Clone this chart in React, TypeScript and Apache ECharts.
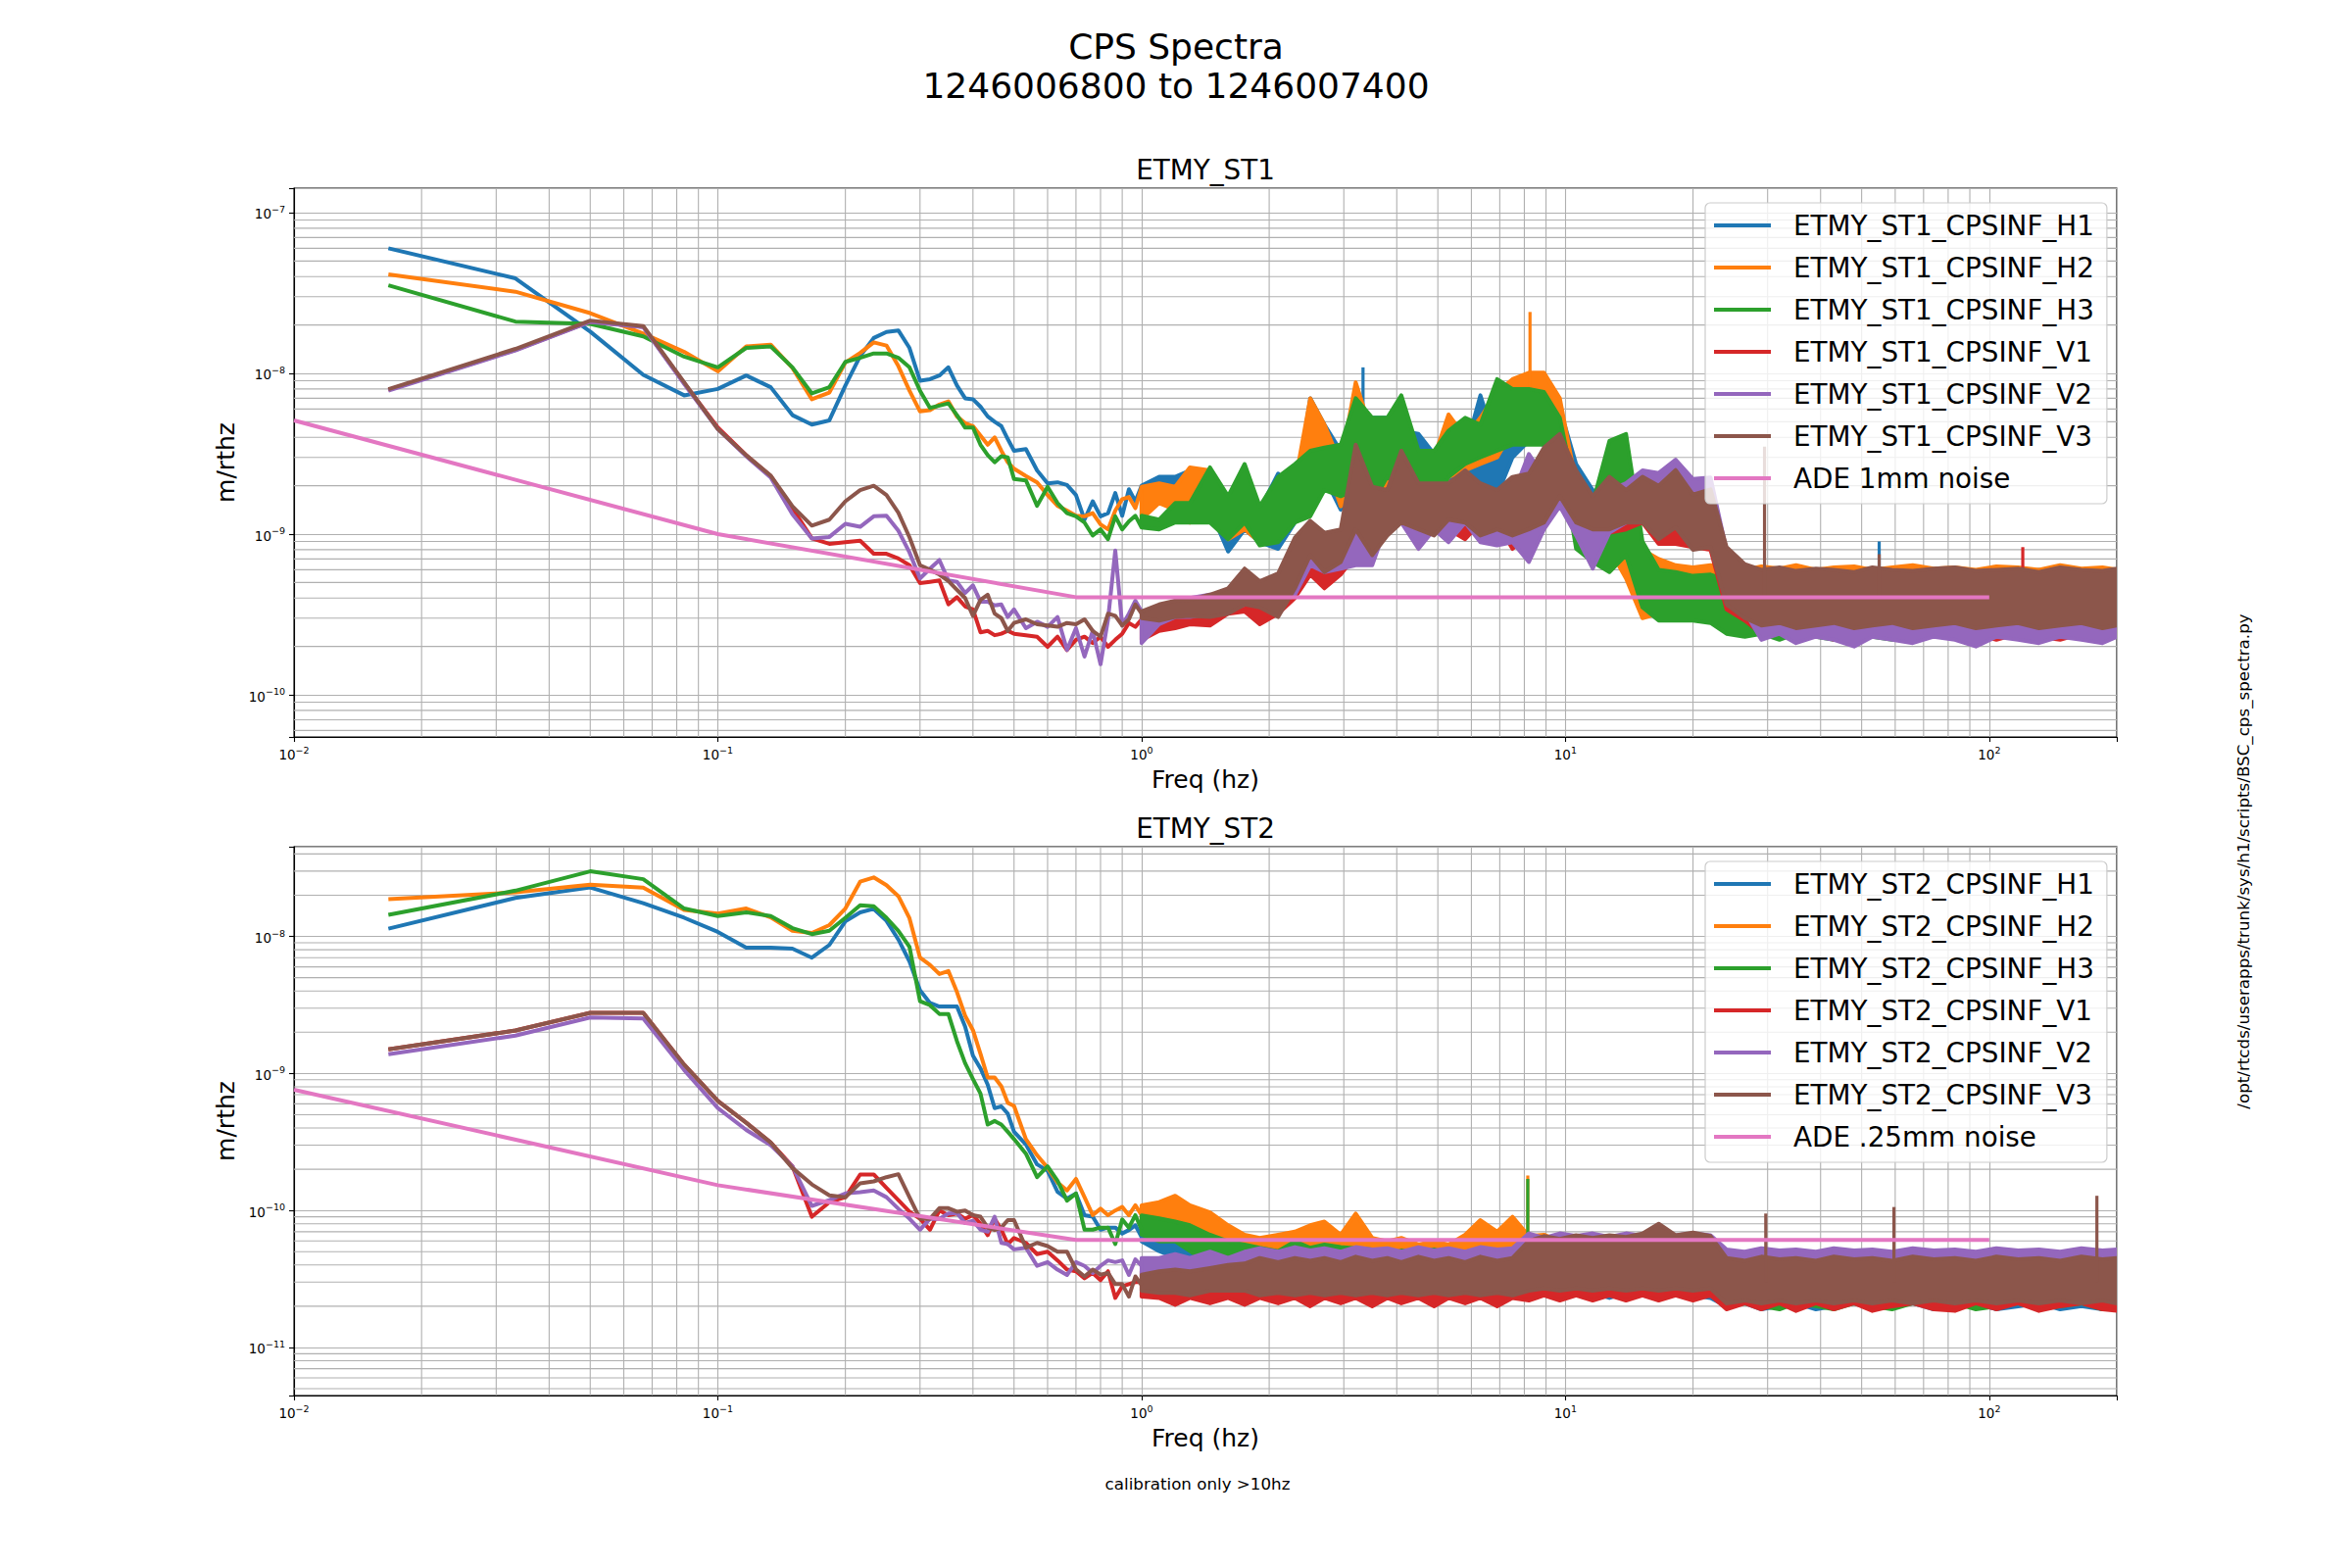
import React, { useEffect, useRef } from 'react';
import * as echarts from 'echarts';

// ---------------- data ----------------
const FREQ_LO = [0.0167, 0.0333, 0.05, 0.0667, 0.0833, 0.1, 0.1167, 0.1333, 0.15, 0.1667, 0.1833, 0.2, 0.2167, 0.2333, 0.25, 0.2667, 0.2833, 0.3, 0.3167, 0.3333, 0.35, 0.3667, 0.3833, 0.4, 0.4167, 0.4333, 0.45, 0.4667, 0.4833, 0.5, 0.5333, 0.5667, 0.6, 0.6333, 0.6667, 0.7, 0.7333, 0.7667, 0.8, 0.8333, 0.8667, 0.9, 0.9333, 0.9667, 1.0];
const FREQ_HI = [1.0, 1.1, 1.2, 1.3, 1.45, 1.6, 1.75, 1.9, 2.1, 2.3, 2.5, 2.7, 2.95, 3.2, 3.5, 3.8, 4.1, 4.5, 4.9, 5.3, 5.8, 6.3, 6.9, 7.5, 8.2, 8.9, 9.7, 10.6, 11.6, 12.7, 13.9, 15.2, 16.6, 18.2, 20, 22, 24, 26.5, 29, 32, 35, 39, 43, 48, 53, 59, 66, 74, 83, 93, 104, 117, 131, 147, 165, 185, 200];
const ADE_FREQ = [0.01, 0.1, 0.7, 100];
const ST1_ADE = [5.1e-9, 1.0e-9, 4.05e-10, 4.05e-10];
const ST2_ADE = [7.6e-10, 1.53e-10, 6.1e-11, 6.1e-11];
const ST1_UNIT = 1e-10;
const ST2_UNIT = 1e-11;

const ST1_NAMES = ['ETMY_ST1_CPSINF_H1', 'ETMY_ST1_CPSINF_H2', 'ETMY_ST1_CPSINF_H3', 'ETMY_ST1_CPSINF_V1', 'ETMY_ST1_CPSINF_V2', 'ETMY_ST1_CPSINF_V3', 'ADE 1mm noise'];
const ST2_NAMES = ['ETMY_ST2_CPSINF_H1', 'ETMY_ST2_CPSINF_H2', 'ETMY_ST2_CPSINF_H3', 'ETMY_ST2_CPSINF_V1', 'ETMY_ST2_CPSINF_V2', 'ETMY_ST2_CPSINF_V3', 'ADE .25mm noise'];

// ST1 traces below 1 Hz (units of 1e-10 m/rthz)
const ST1_H1 = [600, 390, 182, 98, 73, 80, 97, 82, 55, 48, 51, 84, 128, 166, 181, 185, 144, 90, 92, 97, 109, 84, 70, 69, 62, 54, 50, 47, 39, 33, 33.8, 24.9, 20.7, 21, 20.2, 17.5, 12.3, 16, 12.9, 13.5, 18, 13, 19, 16, 20];
const ST1_H2 = [413, 322, 237, 177, 136, 103, 147, 151, 108, 69, 76, 117, 134, 156, 149, 111, 78, 58, 59, 64, 67, 54, 49, 47, 41, 36, 40, 33, 28, 25.5, 23, 21, 17.5, 15, 14, 13, 12.9, 13.5, 11.5, 10.7, 14, 16.5, 17, 14.5, 19.7];
const ST1_H3 = [353, 210, 203, 170, 127, 109, 144, 147, 109, 75, 82, 118, 125, 133, 133, 125, 109, 78, 61, 63, 65, 55, 46, 46, 36, 31, 28, 30.5, 30, 22, 21.6, 15, 19.7, 15.6, 13.5, 12.9, 11.8, 9.8, 10.7, 9.3, 12.9, 10.7, 12, 13, 11];
const ST1_V1 = [79, 140, 210, 195, 87, 46, 31, 23, 14.5, 9.4, 8.7, 8.9, 9.1, 7.55, 7.55, 7.05, 6.4, 4.96, 5.05, 5.15, 3.66, 4.05, 3.55, 3.4, 2.45, 2.5, 2.35, 2.4, 2.5, 2.4, 2.35, 2.3, 1.99, 2.3, 1.9, 2.2, 2.3, 2.1, 2.3, 1.99, 2.2, 2.4, 2.8, 2.65, 2.95];
const ST1_V2 = [78, 139, 209, 194, 86, 45, 30.5, 22.5, 13.3, 9.4, 9.6, 11.6, 11.1, 12.9, 13, 10.5, 7.7, 5.3, 6.1, 6.9, 5.15, 5.05, 4.3, 4.8, 3.8, 3.8, 3.6, 3.65, 3.05, 3.4, 2.6, 2.85, 2.65, 3.05, 1.9, 2.6, 1.73, 2.5, 1.55, 2.95, 7.9, 2.7, 3.2, 3.85, 3.3];
const ST1_V3 = [79.8, 142, 213, 197, 88, 45, 30.9, 23.1, 14.9, 11.3, 12.3, 16, 18.8, 20, 17.5, 13.6, 9.55, 6.4, 6.0, 5.6, 5.1, 4.5, 4.0, 3.1, 3.9, 4.2, 3.2, 3.0, 2.5, 2.8, 2.95, 2.75, 2.7, 2.65, 2.8, 2.75, 2.95, 2.5, 2.3, 3.2, 3.1, 2.7, 2.95, 3.65, 3.2];

// ST1 noise above 1 Hz (low / high edge, units of 1e-10)
const ST1_H1_LO = [13, 17.2, 14.9, 15.6, 14.2, 7.8, 10.7, 8.9, 8.1, 11.8, 22.7, 22.7, 14.2, 18.8, 22.7, 22.7, 15.6, 17.2, 11.8, 17.2, 15.6, 17.2, 17.5, 30, 38, 36, 27.3, 11.8, 8.1, 7.4, 6.1, 4.3, 4.2, 3.8, 3.2, 3.2, 2.8, 2.6, 2.7, 2.5, 2.8, 2.6, 2.5, 2.7, 2.6, 2.5, 2.8, 2.6, 2.5, 2.7, 2.6, 2.5, 2.7, 2.5, 2.6, 2.5, 2.6];
const ST1_H1_HI = [20, 22.7, 22.7, 24.9, 20.7, 14.9, 15.6, 14.2, 23.8, 17.2, 70, 48, 33, 44, 53, 53, 44, 42, 31.5, 30, 33, 73, 34.5, 66.5, 66.5, 63, 60.6, 27.3, 18.8, 17.2, 11.8, 6.3, 6.0, 5.8, 5.6, 5.8, 5.8, 5.6, 6.0, 5.6, 5.9, 5.6, 6.0, 5.7, 5.6, 6.0, 5.6, 5.8, 5.6, 5.9, 5.6, 5.8, 6.0, 5.6, 5.8, 5.7, 5.6];
const ST1_H2_LO = [12.4, 15.6, 14.2, 11.8, 15.6, 9.3, 10.7, 8.9, 10.7, 12.3, 18.8, 30, 14.9, 18.8, 17.2, 18.8, 18.8, 18.8, 14.9, 22.7, 24.9, 27.3, 30, 44, 48, 44, 33, 10.7, 8.9, 8.1, 5.3, 3.0, 3.2, 3.0, 3.3, 3.0, 2.8, 2.9, 2.8, 3.0, 2.8, 2.9, 2.8, 3.0, 2.8, 2.9, 2.8, 3.0, 2.9, 2.8, 3.0, 2.8, 2.9, 2.8, 3.0, 2.8, 2.9];
const ST1_H2_HI = [19.7, 20.7, 19.7, 26, 24.9, 14.2, 17.2, 14.9, 18.8, 20.7, 70, 48, 27.3, 88, 42, 34.5, 36, 33, 30, 55.5, 40, 53, 76.6, 92, 101, 101, 70, 20.7, 17.2, 18.8, 11.8, 8.0, 7.0, 6.4, 6.2, 6.4, 6.2, 6.0, 6.3, 6.1, 6.4, 6.0, 6.2, 6.3, 6.0, 6.2, 6.4, 6.1, 6.2, 6.0, 6.3, 6.2, 6.0, 6.4, 6.1, 6.2, 6.0];
const ST1_H3_LO = [11, 10.7, 11.8, 11.8, 11.8, 9.3, 11.8, 8.5, 8.9, 11.8, 12.9, 18.8, 17.2, 18.8, 15.6, 22.7, 18.8, 14.9, 15.6, 22.7, 27.3, 30, 33, 36, 36, 36, 33, 8.1, 6.7, 5.8, 7.4, 3.5, 2.9, 2.9, 2.9, 2.8, 2.4, 2.3, 2.4, 2.2, 2.4, 2.3, 2.2, 2.4, 2.3, 2.2, 2.4, 2.3, 2.4, 2.2, 2.3, 2.4, 2.2, 2.3, 2.4, 2.2, 2.3];
const ST1_H3_HI = [13, 12.3, 15.6, 15.6, 26, 17.2, 27.3, 14.9, 22.7, 27.3, 33, 34.5, 36, 70, 53, 53, 73, 33, 33, 44, 53, 48, 92, 80, 80, 76.6, 53, 17.2, 15.6, 38, 42, 9, 6.0, 5.8, 5.5, 5.6, 5.2, 5.0, 5.3, 5.1, 5.2, 4.9, 5.3, 5.0, 5.2, 5.1, 4.9, 5.3, 5.0, 5.2, 5.1, 5.0, 5.3, 5.1, 4.9, 5.2, 5.0];
const ST1_V1_LO = [2.2, 2.5, 2.6, 2.75, 2.7, 3.2, 3.3, 2.75, 3.2, 4.0, 5.6, 4.6, 5.6, 7.4, 8.1, 10.7, 14.2, 11.8, 10.7, 10.7, 9.3, 11.8, 11.8, 8.1, 9.8, 12.9, 15.6, 10.7, 7.4, 10.2, 10.7, 11.8, 8.7, 8.7, 8.3, 8.0, 3.4, 2.9, 2.4, 2.5, 2.3, 2.4, 2.2, 2.5, 2.3, 2.4, 2.2, 2.5, 2.3, 2.4, 2.2, 2.4, 2.3, 2.2, 2.4, 2.3, 2.4];
const ST1_V1_HI = [2.9, 2.9, 3.2, 3.5, 3.65, 4.0, 4.2, 4.2, 4.6, 5.1, 8.9, 6.7, 8.1, 11.8, 12.9, 17.2, 24.9, 17.2, 16.4, 15.6, 20.7, 16.4, 16.4, 18.8, 22.7, 33, 30, 18.8, 11.8, 14.9, 15.6, 18.8, 15, 15, 13, 14, 7.4, 6.2, 5.6, 5.4, 5.6, 5.5, 5.3, 5.6, 5.4, 5.5, 5.6, 5.3, 5.5, 5.6, 5.4, 5.5, 5.6, 5.4, 5.3, 5.6, 5.5];
const ST1_V2_LO = [2.1, 2.75, 3.05, 3.05, 3.2, 3.3, 3.65, 3.65, 3.65, 4.2, 6.4, 5.8, 6.1, 6.4, 6.4, 11.8, 11.8, 8.1, 10.7, 8.9, 11.8, 8.9, 8.5, 8.9, 6.7, 10.7, 14.9, 9.8, 6.1, 10.2, 11.8, 12.3, 11, 15, 12, 12.8, 4.3, 3.3, 2.2, 2.4, 2.1, 2.3, 2.2, 2.0, 2.3, 2.2, 2.1, 2.3, 2.2, 2.0, 2.3, 2.2, 2.1, 2.3, 2.2, 2.1, 2.3];
const ST1_V2_HI = [3.3, 3.5, 3.85, 4.0, 4.2, 4.2, 5.1, 5.1, 5.3, 5.8, 9.3, 9.3, 7.8, 11.8, 14.9, 17.2, 23.8, 17.2, 18.8, 18.8, 24.9, 17.2, 14.9, 17.2, 31.5, 22.7, 27.3, 19.7, 12.9, 18.8, 20.7, 24.9, 24, 29, 22, 22.5, 7.9, 6.4, 5.5, 5.3, 5.6, 5.4, 5.2, 5.5, 5.3, 5.6, 5.4, 5.2, 5.5, 5.4, 5.3, 5.6, 5.2, 5.4, 5.5, 5.3, 5.4];
const ST1_V3_LO = [3.0, 2.9, 3.05, 3.1, 3.05, 3.2, 3.65, 3.5, 3.05, 4.6, 7.4, 5.8, 6.7, 10.7, 7.4, 9.8, 11.8, 10.7, 9.8, 12.3, 11.8, 9.8, 10.7, 9.8, 10.7, 11.8, 17.2, 11.8, 10.7, 10.7, 11.8, 11.8, 9.3, 11, 8, 8.3, 3.65, 3.0, 2.7, 2.8, 2.6, 2.7, 2.8, 2.6, 2.7, 2.8, 2.6, 2.7, 2.8, 2.6, 2.7, 2.8, 2.6, 2.7, 2.8, 2.6, 2.7];
const ST1_V3_HI = [3.3, 3.65, 3.85, 3.9, 4.2, 4.6, 6.1, 5.1, 5.7, 9.5, 12.1, 10.2, 10.7, 36, 19.7, 18.8, 33, 20.7, 20.7, 20.7, 24.9, 20.7, 18.8, 22.7, 23.8, 34.5, 42, 24.9, 17.2, 22.7, 18.8, 22.7, 20, 25, 17.6, 19, 8.3, 6.5, 6.0, 6.2, 5.9, 6.1, 6.0, 5.8, 6.2, 6.0, 5.9, 6.1, 6.2, 5.9, 6.0, 6.1, 5.8, 6.2, 6.0, 5.9, 6.1];

// narrow spectral lines: [freq, base, peak] (same units)
const ST1_H1_SPIKES = [[3.33, 30, 109], [55, 4, 9]];
const ST1_H2_SPIKES = [[8.25, 60, 241]];
const ST1_H3_SPIKES: number[][] = [];
const ST1_V1_SPIKES = [[120, 4, 8.3]];
const ST1_V2_SPIKES: number[][] = [];
const ST1_V3_SPIKES = [[29.5, 4, 35], [55, 4, 7.5]];

// ST2 traces below 1 Hz (units of 1e-11 m/rthz)
const ST2_H1 = [1140, 1910, 2280, 1750, 1370, 1080, 830, 830, 815, 700, 867, 1290, 1500, 1590, 1300, 950, 658, 405, 327, 308, 308, 308, 220, 135, 109, 83, 55.8, 57.5, 50.9, 37.5, 30.3, 21.7, 19.5, 13.7, 12.2, 13.3, 9.25, 9.0, 7.24, 7.5, 7.5, 6.8, 7.2, 7.8, 6.4];
const ST2_H2 = [1870, 2100, 2390, 2270, 1560, 1470, 1600, 1380, 1100, 1060, 1210, 1600, 2510, 2700, 2370, 1970, 1360, 700, 620, 532, 560, 393, 264, 207, 139, 93.5, 93.5, 80.5, 61, 58, 33.2, 25.3, 20.5, 16, 14, 17, 12.5, 9.25, 10.3, 9.25, 10, 10.6, 9.25, 10.9, 9.25];
const ST2_H3 = [1440, 2160, 2990, 2620, 1600, 1410, 1500, 1410, 1150, 1040, 1100, 1370, 1690, 1660, 1370, 1100, 840, 337, 315, 272, 272, 172, 119, 91, 71.3, 42.4, 45, 42.4, 37.5, 33.2, 26, 17.5, 21, 16.5, 11.8, 13.3, 7.24, 7.24, 7.5, 7.5, 5.68, 8.6, 7.5, 9.25, 7.24];
const ST2_V1 = [150, 206, 277, 277, 116, 63, 43.7, 31.3, 21, 9.0, 11.5, 12.5, 18.3, 18.3, 14.6, 11.9, 9.8, 8.7, 7.24, 10.0, 9.25, 9.5, 8.7, 9.25, 8.0, 6.6, 8.7, 7.24, 5.68, 6.3, 5.8, 4.8, 5.0, 4.32, 3.7, 3.6, 3.2, 3.5, 3.1, 3.6, 2.3, 2.8, 2.9, 3.0, 3.0];
const ST2_V2 = [138, 189, 256, 252, 106, 56, 38.7, 30, 21, 10.8, 11.9, 13.3, 13.6, 14.0, 12.5, 10.3, 8.7, 7.24, 8.7, 8.7, 9.5, 9.6, 8.1, 8.4, 7.24, 7.0, 9.0, 5.8, 5.68, 5.2, 5.35, 3.94, 4.2, 3.7, 3.38, 4.2, 3.94, 3.5, 3.94, 4.32, 4.2, 4.32, 3.38, 4.4, 3.94];
const ST2_V3 = [150, 206, 277, 277, 116, 63, 43.7, 31.3, 20.4, 15.5, 12.9, 12.5, 15.8, 16.3, 17.5, 18.4, 12.5, 8.7, 8.7, 10.4, 10.4, 9.8, 10.0, 9.25, 9.0, 7.5, 7.2, 7.5, 8.5, 8.5, 5.36, 5.8, 5.5, 5.0, 5.0, 3.72, 3.3, 3.7, 3.4, 3.5, 2.9, 2.9, 2.35, 3.3, 2.85];

// ST2 noise bands above 1 Hz (units of 1e-11)
const ST2_H1_LO = [5.95, 5.05, 4.53, 4.06, 3.44, 3.26, 2.92, 2.9, 2.7, 2.6, 2.8, 2.5, 2.7, 2.4, 2.7, 2.5, 2.7, 2.5, 2.4, 2.6, 2.5, 2.7, 2.4, 2.6, 2.5, 2.4, 2.6, 2.4, 2.5, 2.3, 2.5, 2.4, 2.3, 2.5, 2.4, 2.3, 2.0, 2.1, 1.9, 2.0, 2.1, 1.9, 2.0, 2.1, 1.9, 2.0, 2.1, 1.9, 2.0, 2.1, 1.9, 2.0, 2.1, 1.9, 2.0, 1.9, 2.0];
const ST2_H1_HI = [7.8, 7.8, 7.0, 6.65, 5.64, 5.05, 4.78, 4.8, 4.5, 4.8, 4.4, 4.7, 4.3, 4.6, 4.4, 4.8, 4.3, 4.6, 4.4, 4.7, 4.3, 4.9, 4.5, 5.0, 6.0, 4.3, 4.1, 4.4, 4.2, 4.3, 4.1, 4.4, 4.2, 4.3, 4.1, 4.3, 3.8, 3.6, 3.8, 3.7, 3.6, 3.8, 3.7, 3.6, 3.8, 3.7, 3.6, 3.8, 3.6, 3.7, 3.8, 3.6, 3.7, 3.8, 3.6, 3.7, 3.6];
const ST2_H2_LO = [7.8, 8.3, 8.75, 7.8, 6.65, 5.05, 4.53, 4.28, 4.06, 4.06, 4.06, 4.53, 4.06, 4.53, 3.84, 3.84, 3.84, 3.63, 3.44, 3.44, 3.63, 3.84, 3.84, 4.06, 3.8, 3.44, 3.26, 3.0, 2.7, 2.8, 2.7, 2.6, 2.8, 2.7, 2.6, 2.8, 2.1, 2.2, 2.1, 2.0, 2.2, 2.1, 2.0, 2.2, 2.1, 2.0, 2.2, 2.1, 2.2, 2.0, 2.1, 2.2, 2.0, 2.1, 2.2, 2.0, 2.1];
const ST2_H2_HI = [10.9, 11.5, 12.8, 10.9, 9.7, 7.8, 6.65, 6.3, 6.65, 7.0, 7.8, 8.3, 6.65, 9.5, 6.3, 5.95, 6.3, 5.64, 5.95, 5.64, 6.65, 8.5, 7.0, 9.0, 6.5, 6.65, 5.95, 5.0, 4.6, 4.4, 4.7, 4.5, 4.6, 4.4, 4.6, 4.5, 3.8, 3.7, 3.9, 3.8, 3.7, 3.9, 3.8, 3.7, 3.9, 3.8, 3.7, 3.8, 3.9, 3.7, 3.8, 3.9, 3.7, 3.8, 3.9, 3.7, 3.8];
const ST2_H3_LO = [6.65, 5.95, 5.95, 5.05, 4.06, 3.84, 3.44, 3.44, 3.26, 3.44, 3.26, 3.26, 3.1, 3.0, 2.8, 3.0, 2.9, 2.8, 3.0, 2.9, 2.8, 3.0, 2.9, 2.8, 3.0, 2.6, 2.7, 2.5, 2.6, 2.7, 2.5, 2.6, 2.7, 2.5, 2.6, 2.5, 2.0, 2.1, 2.0, 1.9, 2.1, 2.0, 1.9, 2.1, 2.0, 1.9, 2.1, 2.0, 2.1, 1.9, 2.0, 2.1, 1.9, 2.0, 2.1, 1.9, 2.0];
const ST2_H3_HI = [9.2, 8.75, 8.3, 7.8, 6.65, 5.95, 5.64, 5.34, 5.05, 5.95, 5.34, 5.64, 5.4, 5.3, 5.2, 4.8, 5.1, 4.9, 5.2, 4.8, 5.0, 5.2, 4.9, 5.1, 6.0, 4.5, 4.4, 4.6, 4.3, 4.5, 4.4, 4.6, 5.5, 4.4, 4.5, 4.3, 3.6, 3.5, 3.7, 3.6, 3.5, 3.7, 3.6, 3.5, 3.7, 3.6, 3.5, 3.7, 3.6, 3.5, 3.7, 3.6, 3.5, 3.7, 3.6, 3.5, 3.6];
const ST2_V1_LO = [2.35, 2.3, 2.05, 2.3, 2.1, 2.3, 2.05, 2.3, 2.1, 2.3, 2.0, 2.3, 2.1, 2.3, 2.0, 2.3, 2.1, 2.3, 2.0, 2.3, 2.1, 2.3, 2.0, 2.3, 2.2, 2.4, 2.2, 2.4, 2.2, 2.4, 2.2, 2.4, 2.2, 2.4, 2.2, 2.4, 1.9, 2.1, 1.9, 2.1, 1.85, 2.1, 1.9, 2.1, 1.85, 2.0, 2.1, 1.9, 1.85, 2.1, 1.9, 2.1, 1.85, 2.0, 2.1, 1.9, 1.85];
const ST2_V1_HI = [3.6, 3.4, 3.3, 3.4, 3.3, 3.4, 3.3, 3.4, 3.6, 3.5, 3.6, 3.4, 3.6, 3.5, 3.6, 3.4, 3.6, 3.5, 3.6, 3.4, 3.6, 3.5, 3.6, 3.5, 3.8, 3.7, 3.8, 3.6, 3.8, 3.7, 3.8, 3.6, 3.8, 3.7, 3.8, 3.7, 3.4, 3.3, 3.4, 3.2, 3.4, 3.3, 3.4, 3.2, 3.4, 3.3, 3.4, 3.2, 3.4, 3.3, 3.4, 3.2, 3.4, 3.3, 3.4, 3.2, 3.3];
const ST2_V2_LO = [3.3, 3.6, 3.6, 3.7, 3.4, 3.2, 3.3, 3.0, 3.1, 3.0, 3.1, 3.0, 3.1, 3.0, 3.1, 3.0, 3.1, 3.0, 3.1, 3.0, 3.1, 3.0, 3.1, 3.0, 3.6, 3.7, 3.6, 3.7, 3.6, 3.7, 3.6, 3.7, 3.6, 3.7, 3.6, 3.7, 3.9, 4.0, 3.9, 4.0, 3.9, 4.0, 3.9, 4.0, 3.9, 4.0, 3.9, 4.0, 3.9, 4.0, 3.9, 4.0, 3.9, 4.0, 3.9, 4.0, 3.9];
const ST2_V2_HI = [4.5, 4.5, 4.8, 4.5, 5.0, 4.5, 5.0, 5.3, 5.0, 5.4, 5.1, 5.3, 5.0, 5.4, 5.2, 5.3, 5.0, 5.4, 5.1, 5.3, 5.0, 5.4, 5.2, 5.3, 6.8, 6.3, 6.8, 6.5, 6.8, 6.4, 6.8, 6.5, 6.9, 6.6, 6.8, 6.6, 5.2, 5.0, 5.3, 5.1, 5.2, 5.0, 5.3, 5.1, 5.2, 5.0, 5.3, 5.1, 5.2, 5.0, 5.3, 5.1, 5.2, 5.0, 5.3, 5.1, 5.2];
const ST2_V3_LO = [2.6, 2.5, 2.5, 2.4, 2.6, 2.6, 2.6, 2.4, 2.5, 2.4, 2.5, 2.4, 2.5, 2.4, 2.5, 2.4, 2.5, 2.4, 2.5, 2.4, 2.5, 2.4, 2.5, 2.4, 2.6, 2.7, 2.6, 2.7, 2.6, 2.7, 2.6, 2.7, 2.6, 2.7, 2.6, 2.7, 2.1, 2.2, 2.1, 2.2, 2.1, 2.2, 2.1, 2.2, 2.1, 2.2, 2.1, 2.2, 2.1, 2.2, 2.1, 2.2, 2.1, 2.2, 2.1, 2.2, 2.1];
const ST2_V3_HI = [3.4, 3.6, 3.7, 3.6, 3.8, 4.0, 4.1, 4.5, 4.2, 4.5, 4.3, 4.5, 4.2, 4.6, 4.3, 4.5, 4.2, 4.6, 4.3, 4.5, 4.2, 4.6, 4.3, 4.5, 6.0, 6.5, 6.2, 6.6, 6.3, 6.6, 6.4, 6.8, 8.0, 6.6, 6.9, 6.5, 4.5, 4.3, 4.6, 4.4, 4.5, 4.3, 4.6, 4.4, 4.5, 4.3, 4.6, 4.4, 4.5, 4.3, 4.6, 4.4, 4.5, 4.3, 4.6, 4.4, 4.5];

const ST2_H1_SPIKES: number[][] = [];
const ST2_H2_SPIKES = [[8.15, 5, 18]];
const ST2_H3_SPIKES = [[8.15, 5, 17]];
const ST2_V1_SPIKES: number[][] = [];
const ST2_V2_SPIKES: number[][] = [];
const ST2_V3_SPIKES = [[29.7, 3, 9.5], [59.6, 3, 10.6], [179.5, 3, 12.8]];

// axes
const X_RANGE = [0.01, 200];
const ST1_Y_RANGE = [5.47e-11, 1.42e-7];
const ST2_Y_RANGE = [4.46e-12, 4.52e-8];
const X_MINOR = [0.02, 0.03, 0.04, 0.05, 0.06, 0.07, 0.08, 0.09, 0.2, 0.3, 0.4, 0.5, 0.6, 0.7, 0.8, 0.9, 2, 3, 4, 5, 6, 7, 8, 9, 20, 30, 40, 50, 60, 70, 80, 90];
const ST1_Y_MINOR = [6e-11, 7e-11, 8e-11, 9e-11, 2e-10, 3e-10, 4e-10, 5e-10, 6e-10, 7e-10, 8e-10, 9e-10, 2e-9, 3e-9, 4e-9, 5e-9, 6e-9, 7e-9, 8e-9, 9e-9, 2e-8, 3e-8, 4e-8, 5e-8, 6e-8, 7e-8, 8e-8, 9e-8];
const ST2_Y_MINOR = [5e-12, 6e-12, 7e-12, 8e-12, 9e-12, 2e-11, 3e-11, 4e-11, 5e-11, 6e-11, 7e-11, 8e-11, 9e-11, 2e-10, 3e-10, 4e-10, 5e-10, 6e-10, 7e-10, 8e-10, 9e-10, 2e-9, 3e-9, 4e-9, 5e-9, 6e-9, 7e-9, 8e-9, 9e-9, 2e-8, 3e-8, 4e-8];

const COLORS = ['#1f77b4', '#ff7f0e', '#2ca02c', '#d62728', '#9467bd', '#8c564b', '#e377c2'];
const FONT = 'DejaVu Sans';
const LW = 4;

function powLabel(v: number): string {
  const e = Math.log10(v);
  const r = Math.round(e);
  if (Math.abs(e - r) > 1e-6) return '';
  const exp = r < 0 ? '\u2212' + String(-r) : String(r);
  return '{b|10}{s|' + exp + '}';
}
const LABEL_RICH = {
  b: { fontSize: 13.5, fontFamily: FONT, color: '#000', lineHeight: 17, verticalAlign: 'bottom' },
  s: { fontSize: 9.5, fontFamily: FONT, color: '#000', lineHeight: 11, verticalAlign: 'top' },
};

function buildPanel(idx: number, names: string[], lines: number[][], los: number[][], his: number[][], spikes: number[][][], unit: number, ade: number[], yRange: number[], yMinor: number[]) {
  const series: any[] = [];
  series.push({
    type: 'custom', name: 'grid' + idx, coordinateSystem: 'cartesian2d', xAxisIndex: idx, yAxisIndex: idx,
    silent: true, z: 1, data: [[1, Math.sqrt(yRange[0] * yRange[1])]],
    renderItem: (_p: any, api: any) => {
      const children: any[] = [];
      X_MINOR.forEach((x) => {
        const a = api.coord([x, yRange[0]]);
        const b = api.coord([x, yRange[1]]);
        children.push({ type: 'line', shape: { x1: a[0], y1: a[1], x2: b[0], y2: b[1] }, style: { stroke: '#b0b0b0', lineWidth: 1.1 } });
      });
      yMinor.forEach((y) => {
        const a = api.coord([X_RANGE[0], y]);
        const b = api.coord([X_RANGE[1], y]);
        children.push({ type: 'line', shape: { x1: a[0], y1: a[1], x2: b[0], y2: b[1] }, style: { stroke: '#b0b0b0', lineWidth: 1.1 } });
      });
      return { type: 'group', children };
    },
  });
  for (let ch = 0; ch < 6; ch++) {
    const color = COLORS[ch];
    const lo = los[ch];
    const hi = his[ch];
    const sp = spikes[ch];
    series.push({
      type: 'custom', name: names[ch] + ' band', coordinateSystem: 'cartesian2d', xAxisIndex: idx, yAxisIndex: idx,
      silent: true, z: 2 + ch * 2, clip: true, data: [[FREQ_HI[0], lo[0] * unit]],
      renderItem: (_p: any, api: any) => {
        const top = FREQ_HI.map((f, i) => api.coord([f, hi[i] * unit]));
        const bot = FREQ_HI.map((f, i) => api.coord([f, lo[i] * unit])).reverse();
        const children: any[] = [{
          type: 'polygon', shape: { points: top.concat(bot) },
          style: { fill: color, stroke: color, lineWidth: LW, lineJoin: 'round' },
        }];
        sp.forEach((s) => {
          const a = api.coord([s[0], s[1] * unit]);
          const b = api.coord([s[0], s[2] * unit]);
          children.push({ type: 'line', shape: { x1: a[0], y1: a[1], x2: b[0], y2: b[1] }, style: { stroke: color, lineWidth: LW * 0.8 } });
        });
        return { type: 'group', children };
      },
    });
    series.push({
      type: 'line', name: names[ch], xAxisIndex: idx, yAxisIndex: idx, z: 3 + ch * 2,
      color, showSymbol: false, symbol: 'none',
      lineStyle: { width: LW, color, join: 'round' },
      data: FREQ_LO.map((f, i) => [f, lines[ch][i] * unit]),
    });
  }
  series.push({
    type: 'line', name: names[6], xAxisIndex: idx, yAxisIndex: idx, z: 15,
    color: COLORS[6], showSymbol: false, symbol: 'none',
    lineStyle: { width: LW, color: COLORS[6] },
    data: ADE_FREQ.map((f, i) => [f, ade[i]]),
  });
  return series;
}

function xAxisCfg(gi: number) {
  return {
    type: 'log', logBase: 10, gridIndex: gi, min: X_RANGE[0], max: X_RANGE[1],
    name: 'Freq (hz)', nameLocation: 'middle', nameGap: 31,
    nameTextStyle: { fontSize: 25, fontFamily: FONT, color: '#000' },
    axisLine: { show: true, onZero: false, lineStyle: { color: '#000', width: 1.1 } },
    axisTick: { show: true, inside: false, length: 5, lineStyle: { color: '#000', width: 1.1 } },
    axisLabel: { formatter: powLabel, margin: 8, rich: LABEL_RICH },
    splitLine: { show: true, lineStyle: { color: '#b0b0b0', width: 1.1 } },
  };
}
function yAxisCfg(gi: number, range: number[]) {
  return {
    type: 'log', logBase: 10, gridIndex: gi, min: range[0], max: range[1],
    name: 'm/rthz', nameLocation: 'middle', nameGap: 52,
    nameTextStyle: { fontSize: 25, fontFamily: FONT, color: '#000' },
    axisLine: { show: true, onZero: false, lineStyle: { color: '#000', width: 1.1 } },
    axisTick: { show: true, inside: false, length: 5, lineStyle: { color: '#000', width: 1.1 } },
    axisLabel: { formatter: powLabel, margin: 9, rich: LABEL_RICH },
    splitLine: { show: true, lineStyle: { color: '#b0b0b0', width: 1.1 } },
  };
}
function legendCfg(top: number, names: string[]) {
  return {
    orient: 'vertical', left: 1740, top, z: 30, data: names, selectedMode: false,
    icon: 'rect', itemWidth: 58, itemHeight: 3.8, itemGap: 11,
    backgroundColor: 'rgba(255,255,255,0.8)', borderColor: '#cccccc', borderWidth: 1.2, borderRadius: 5,
    padding: [7, 13, 10, 9],
    textStyle: { fontSize: 27.8, fontFamily: FONT, color: '#000', lineHeight: 32, padding: [0, 0, 0, 18] },
  };
}
function txt(x: number, y: number, text: string, size: number, extra: any = {}) {
  return {
    type: 'text', x, y, z: 40, ...extra,
    style: { text, fontSize: size, fontFamily: FONT, fill: '#000', align: 'center', verticalAlign: 'middle' },
  };
}

export default function App() {
  const ref = useRef<HTMLDivElement>(null);
  useEffect(() => {
    if (!ref.current) return;
    const chart = echarts.init(ref.current, null, { renderer: 'svg' });
    const s1 = buildPanel(0, ST1_NAMES,
      [ST1_H1, ST1_H2, ST1_H3, ST1_V1, ST1_V2, ST1_V3],
      [ST1_H1_LO, ST1_H2_LO, ST1_H3_LO, ST1_V1_LO, ST1_V2_LO, ST1_V3_LO],
      [ST1_H1_HI, ST1_H2_HI, ST1_H3_HI, ST1_V1_HI, ST1_V2_HI, ST1_V3_HI],
      [ST1_H1_SPIKES, ST1_H2_SPIKES, ST1_H3_SPIKES, ST1_V1_SPIKES, ST1_V2_SPIKES, ST1_V3_SPIKES],
      ST1_UNIT, ST1_ADE, ST1_Y_RANGE, ST1_Y_MINOR);
    const s2 = buildPanel(1, ST2_NAMES,
      [ST2_H1, ST2_H2, ST2_H3, ST2_V1, ST2_V2, ST2_V3],
      [ST2_H1_LO, ST2_H2_LO, ST2_H3_LO, ST2_V1_LO, ST2_V2_LO, ST2_V3_LO],
      [ST2_H1_HI, ST2_H2_HI, ST2_H3_HI, ST2_V1_HI, ST2_V2_HI, ST2_V3_HI],
      [ST2_H1_SPIKES, ST2_H2_SPIKES, ST2_H3_SPIKES, ST2_V1_SPIKES, ST2_V2_SPIKES, ST2_V3_SPIKES],
      ST2_UNIT, ST2_ADE, ST2_Y_RANGE, ST2_Y_MINOR);
    chart.setOption({
      animation: false,
      backgroundColor: '#ffffff',
      grid: [
        { left: 300, top: 192, width: 1860, height: 560, show: true, borderColor: '#000', borderWidth: 1.1, backgroundColor: 'transparent' },
        { left: 300, top: 864, width: 1860, height: 560, show: true, borderColor: '#000', borderWidth: 1.1, backgroundColor: 'transparent' },
      ],
      xAxis: [xAxisCfg(0), xAxisCfg(1)],
      yAxis: [yAxisCfg(0, ST1_Y_RANGE), yAxisCfg(1, ST2_Y_RANGE)],
      legend: [legendCfg(207, ST1_NAMES), legendCfg(879, ST2_NAMES)],
      series: [...s1, ...s2],
      graphic: [
        txt(1200, 47, 'CPS Spectra', 36),
        txt(1200, 87, '1246006800 to 1246007400', 36),
        txt(1230, 173, 'ETMY_ST1', 27.8),
        txt(1230, 845, 'ETMY_ST2', 27.8),
        txt(1222, 1514, 'calibration only >10hz', 16.7),
        txt(2289, 879, '/opt/rtcds/userapps/trunk/sys/h1/scripts/BSC_cps_spectra.py', 16.7, { rotation: Math.PI / 2 }),
      ],
    });
    return () => chart.dispose();
  }, []);
  return <div ref={ref} style={{ position: 'fixed', left: 0, top: 0, width: 2400, height: 1600, background: '#fff' }} />;
}
